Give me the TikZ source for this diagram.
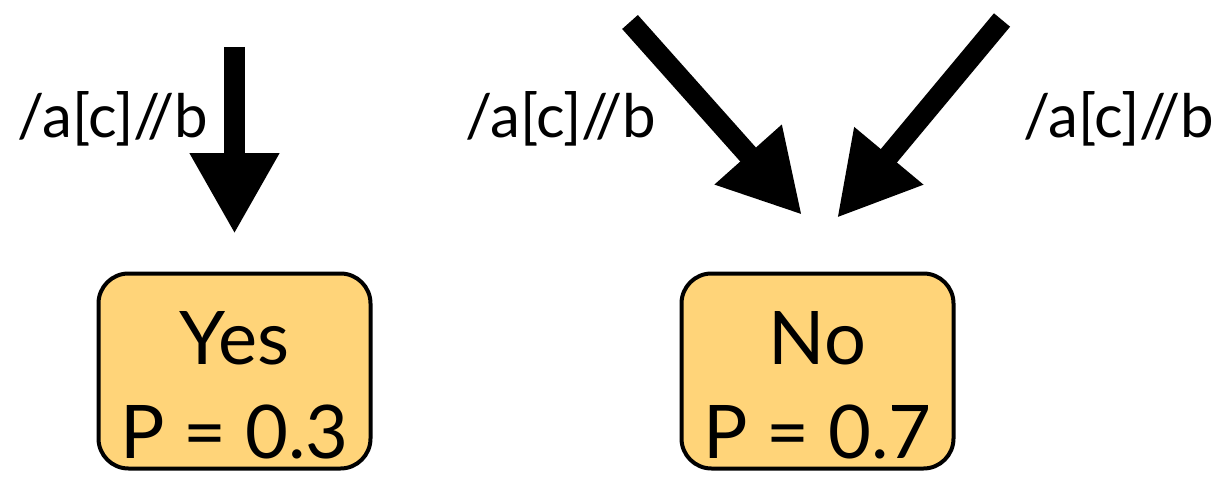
\documentclass[tikz,border=0pt]{standalone}
\usepackage{fontspec}
\setmainfont{Lato}
\usepackage{xcolor}
\usetikzlibrary{positioning, arrows.meta}
\definecolor{boxfill}{HTML}{FFD479}

\begin{document}
\begin{tikzpicture}[
    x=1pt, y=-1pt,
    box/.style={draw, line width=4pt, fill=boxfill, rounded corners=30pt,
        minimum width=272pt, minimum height=195pt, align=center,
        font=\fontsize{74}{94}\selectfont, inner sep=0pt},
    lbl/.style={anchor=base, font=\fontsize{60}{70}\selectfont, inner sep=0pt},
    flow/.style={line width=21pt, -{Triangle[length=81pt, width=84pt]}}
]
\useasboundingbox (0,0) rectangle (1220,484);

% outcome boxes
\node[box] (yes) at (234.5,371) {\rule{0pt}{81pt}Yes\\P = 0.3};
\node[box] (no) at (817.5,371) {\rule{0pt}{81pt}No\\P = 0.7};

% arrow ends
\coordinate (yestail) at (234.5,47);
\coordinate (yeshead) at (234.5,234);
\coordinate (lefttail) at (630,22);
\coordinate (lefthead) at (802,215);
\coordinate (righttail) at (1002,20);
\coordinate (righthead) at (837,218);

\draw[flow] (yestail) -- (yeshead);
\draw[flow] (lefttail) -- (lefthead);
\draw[flow] (righttail) -- (righthead);

% path labels
\node[lbl] (yeslbl) at (113,137) {/a[c]//b};
\node[lbl] (leftlbl) at (561,137) {/a[c]//b};
\node[lbl] (rightlbl) at (1119,137) {/a[c]//b};
\end{tikzpicture}
\end{document}
